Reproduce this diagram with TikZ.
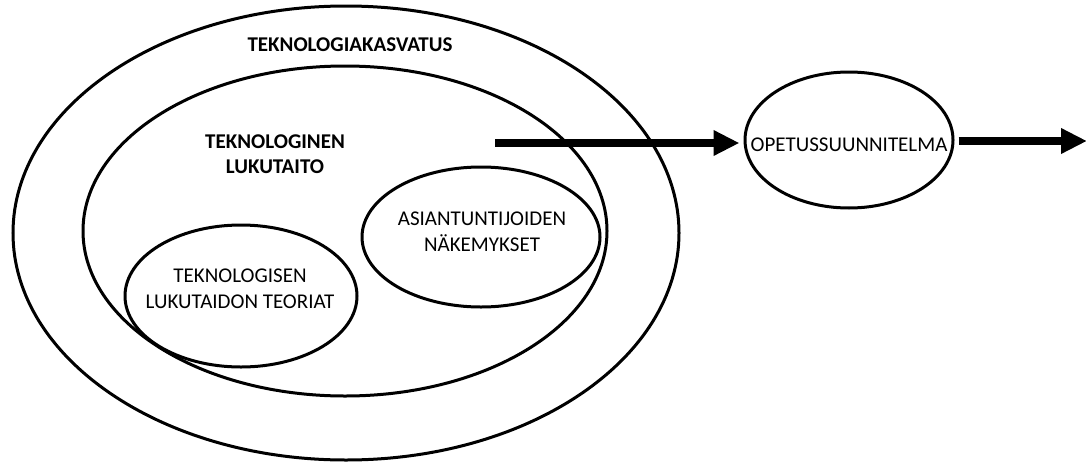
\documentclass[tikz,border=0pt]{standalone}
\usepackage{fontspec}
\setmainfont{Carlito}
\usetikzlibrary{shapes.geometric,arrows.meta}
\begin{document}
\begin{tikzpicture}[x=1pt,y=-1pt,
  ring/.style={draw, line width=3pt, ellipse, inner sep=0pt},
  txt/.style={font=\fontsize{21}{26}\selectfont, align=center, inner sep=0pt},
  btxt/.style={font=\fontsize{21}{25}\selectfont\bfseries, align=center, inner sep=0pt},
  bigarrow/.style={line width=8pt, -{Triangle[length=26pt,width=24pt]}}]
\useasboundingbox (0,0) rectangle (1086,463);
\node[ring, minimum width=666pt, minimum height=454pt] (outer) at (346,233) {};
\node[ring, minimum width=524pt, minimum height=330pt] (middle) at (345,231) {};
\node[ring, minimum width=232pt, minimum height=142pt] (theories) at (241,296) {};
\node[ring, minimum width=238pt, minimum height=140pt] (experts) at (481,237) {};
\node[ring, minimum width=208pt, minimum height=136pt] (opetus) at (849,140) {};
\node[btxt] (tka) at (350,45) {TEKNOLOGIAKASVATUS};
\node[btxt] (tlt) at (275,154) {TEKNOLOGINEN\\LUKUTAITO};
\node[txt] (tth) at (240,289) {TEKNOLOGISEN\\LUKUTAIDON TEORIAT};
\node[txt] (tex) at (482,232) {ASIANTUNTIJOIDEN\\NÄKEMYKSET};
\node[txt] (tops) at (849,145) {OPETUSSUUNNITELMA};
\coordinate (a1) at (495,143);
\draw[bigarrow, shorten >=4pt] (a1) -- (a1 -| opetus.west);
\coordinate (a2) at (1087,141);
\draw[bigarrow, shorten <=4pt] (opetus.east |- a2) -- (a2);
\end{tikzpicture}
\end{document}
